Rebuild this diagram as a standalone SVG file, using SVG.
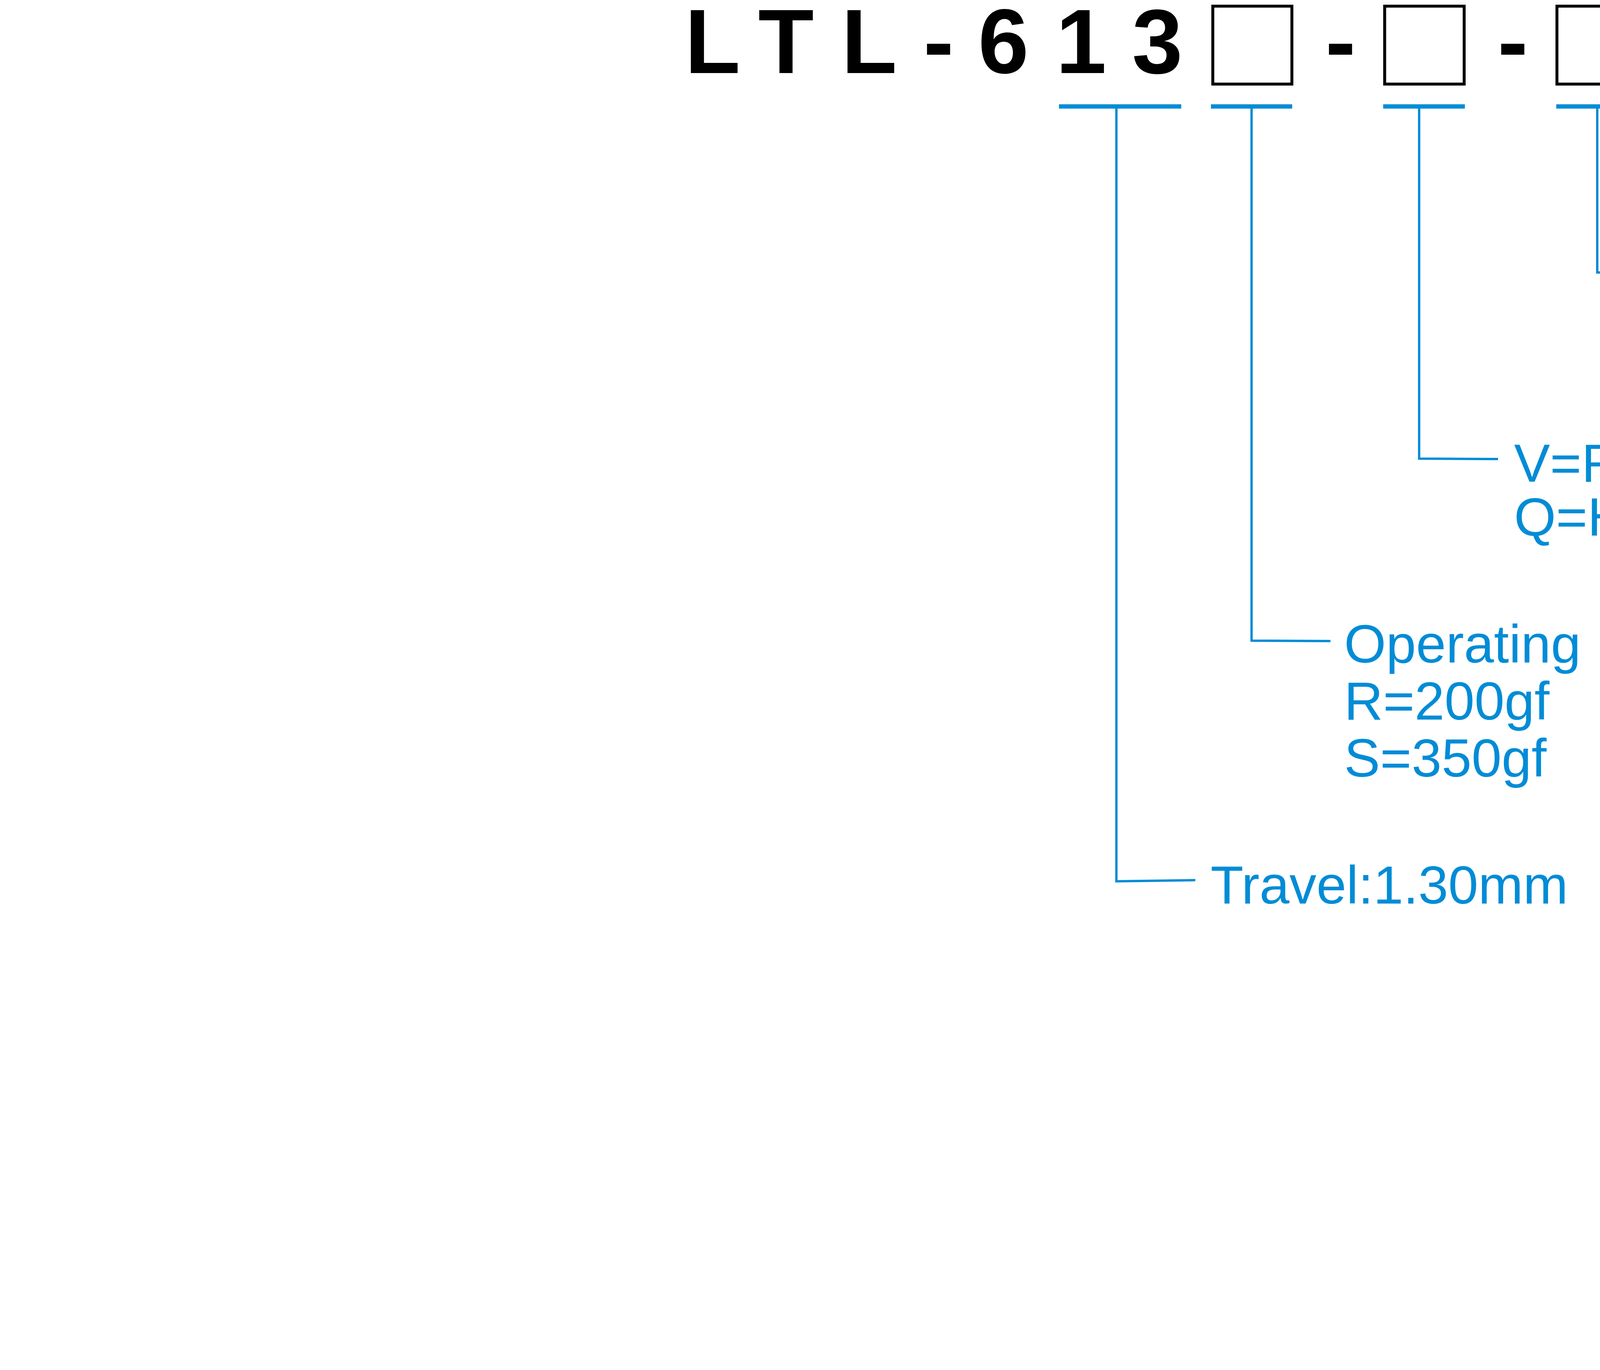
<svg xmlns="http://www.w3.org/2000/svg" width="5954" height="3507" viewBox="0 0 5954 3507">
<style>
.pn{font-family:"Liberation Sans",Arial,sans-serif;font-weight:bold;font-size:233px;fill:#000}
.box{fill:none;stroke:#000;stroke-width:7.5}
.bar{fill:#008CD6}
.con{fill:none;stroke:#008CD6;stroke-width:6}
.lbl{font-family:"Liberation Sans",Arial,sans-serif;font-size:138px;fill:#008CD6}
</style>
<rect width="5954" height="3507" fill="#fff"/>
<g id="part-number">
<text class="pn" x="1753" y="187">L</text>
<text class="pn" x="1941" y="187">T</text>
<text class="pn" x="2154" y="187">L</text>
<text class="pn" x="2364" y="187">-</text>
<text class="pn" x="2504" y="187">6</text>
<text class="pn" x="2703" y="187">1</text>
<text class="pn" x="2898" y="187">3</text>
<rect class="box" x="3104.75" y="15.75" width="202.5" height="199.5"/>
<text class="pn" x="3393" y="187">-</text>
<rect class="box" x="3544.75" y="15.75" width="203.5" height="199.5"/>
<text class="pn" x="3834" y="187">-</text>
<rect class="box" x="3985.75" y="15.75" width="202.5" height="199.5"/>
</g>
<g id="connectors">
<rect class="bar" x="2711" y="267" width="313" height="11"/>
<rect class="bar" x="3100" y="267" width="208" height="11"/>
<rect class="bar" x="3541" y="267" width="209" height="11"/>
<rect class="bar" x="3984" y="267" width="210" height="11"/>
<polyline class="con" points="2858,278 2858,2256 3060,2253"/>
<polyline class="con" points="3204,278 3204,1640 3406,1641"/>
<polyline class="con" points="3633,278 3633,1174 3835,1175"/>
<polyline class="con" points="4089,278 4089,697.5 4289,697.5"/>
</g>
<g id="label-package">
<text class="lbl" x="4330" y="762">Package:</text>
<text class="lbl" x="4330" y="908">T/R=Tape &amp; Reel</text>
</g>
<g id="label-material">
<text class="lbl" x="3876" y="1233">V=RoHS &amp; Lead Free Solderable</text>
<text class="lbl" x="3876" y="1371">Q=Halogen Free</text>
</g>
<g id="label-force">
<text class="lbl" x="3441" y="1696">Operating Force:</text>
<text class="lbl" x="3441" y="1842">R=200gf</text>
<text class="lbl" x="3441" y="1988">S=350gf</text>
</g>
<g id="label-travel">
<text class="lbl" x="3099" y="2313">Travel:1.30mm</text>
</g>
</svg>
